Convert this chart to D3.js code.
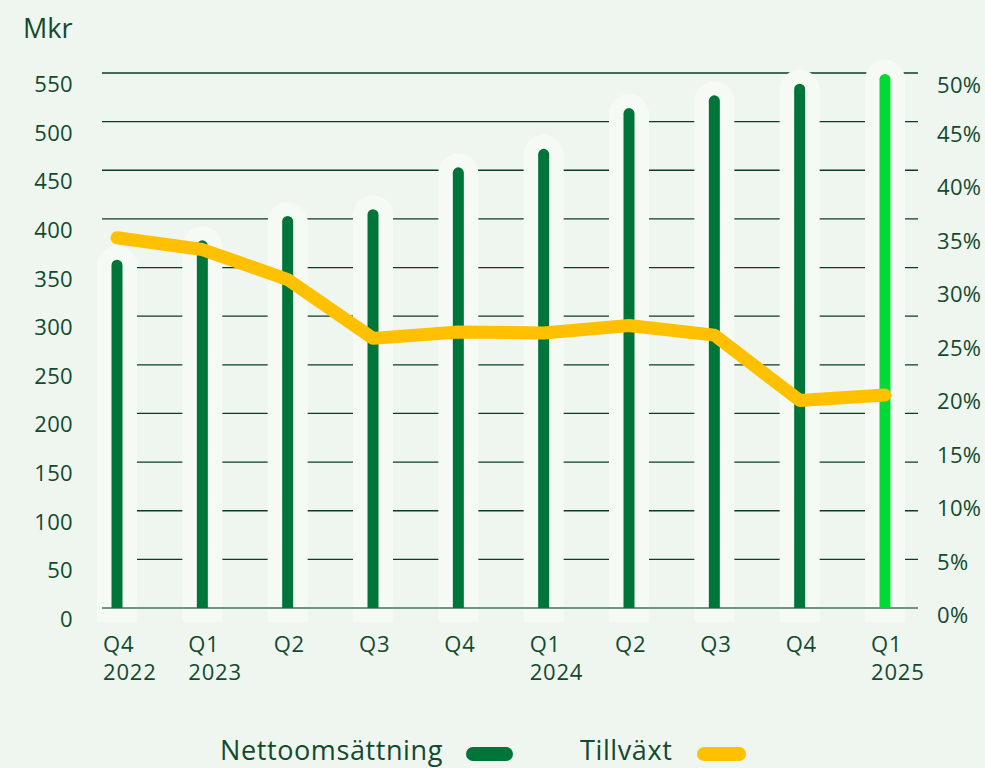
<!DOCTYPE html>
<html>
<head>
<meta charset="utf-8">
<script src="https://cdn.jsdelivr.net/npm/d3@7/dist/d3.min.js"></script>
<style>
  html, body { margin: 0; padding: 0; background: #eff6ef; }
  svg { display: block; font-family: "Open Sans", "Noto Sans", sans-serif; }
</style>
</head>
<body>
<svg id="chart" width="985" height="768"></svg>
<script>
const quarters = ["Q4", "Q1", "Q2", "Q3", "Q4", "Q1", "Q2", "Q3", "Q4", "Q1"];
const years    = ["2022", "2023", "", "", "", "2024", "", "", "", "2025"];
const netSales = [358, 378, 403, 410, 453, 472, 514, 527, 539, 549];
const growth   = [34.6, 33.5, 30.7, 25.2, 25.8, 25.7, 26.4, 25.5, 19.4, 19.9];
const leftTicks  = [0, 50, 100, 150, 200, 250, 300, 350, 400, 450, 500, 550];
const rightTicks = [0, 5, 10, 15, 20, 25, 30, 35, 40, 45, 50];
const unitLabel = "Mkr";
const legendLabels = ["Nettoomsättning", "Tillväxt"];

(function () {
const C = {
  bg: "#eff6ef", barBg: "#f5faf5", bar: "#00753a", barLast: "#00d936",
  line: "#ffc000", text: "#124a2e", grid: "#0b3d22", base: "#6f9682"
};

const svg = d3.select("#chart");
const pL = 102, pR = 918, pT = 73, pB = 608;
const idx = d3.range(quarters.length);

const x = d3.scalePoint().domain(idx).range([117, 885]);
const y = d3.scaleLinear().domain([0, 550]).range([pB, pT]);
const yp = d3.scaleLinear().domain([0, 50]).range([pB, pT]);

// gridlines
svg.append("g").selectAll("line").data(leftTicks.filter(d => d > 0)).join("line")
  .attr("x1", pL).attr("x2", pR)
  .attr("y1", d => y(d)).attr("y2", d => y(d))
  .attr("stroke", C.grid).attr("stroke-width", 1.3);

// background pills behind bars
const bgW = 40;
svg.append("g").selectAll("path").data(idx).join("path")
  .attr("fill", C.barBg)
  .attr("d", i => {
    const cx = x(i), t = y(netSales[i]) - 14, b = pB + 14, r = bgW / 2;
    return `M${cx - r},${b} L${cx - r},${t + r} A${r},${r} 0 0 1 ${cx + r},${t + r} L${cx + r},${b} Z`;
  });

// baseline
svg.append("line").attr("x1", pL).attr("x2", pR)
  .attr("y1", pB).attr("y2", pB)
  .attr("stroke", C.base).attr("stroke-width", 2);

// bars
const bw = 11;
svg.append("g").selectAll("path").data(idx).join("path")
  .attr("fill", i => i === idx.length - 1 ? C.barLast : C.bar)
  .attr("d", i => {
    const cx = x(i), t = y(netSales[i]), b = pB, r = bw / 2;
    return `M${cx - r},${b} L${cx - r},${t + r} A${r},${r} 0 0 1 ${cx + r},${t + r} L${cx + r},${b} Z`;
  });

// growth line
svg.append("path").datum(idx)
  .attr("fill", "none").attr("stroke", C.line).attr("stroke-width", 13)
  .attr("stroke-linecap", "round").attr("stroke-linejoin", "round")
  .attr("d", d3.line().x(i => x(i)).y(i => yp(growth[i])));

// left axis labels
svg.append("g").selectAll("text").data(leftTicks).join("text")
  .attr("x", 73).attr("y", d => y(d) + 10)
  .attr("text-anchor", "end").attr("dominant-baseline", "central")
  .attr("fill", C.text).attr("font-size", 22).attr("letter-spacing", 0.3)
  .text(d => d);

// right axis labels
svg.append("g").selectAll("text").data(rightTicks).join("text")
  .attr("x", 937).attr("y", d => Math.min(615.5, Math.max(83.5, yp(d) + 6)))
  .attr("text-anchor", "start").attr("dominant-baseline", "central")
  .attr("fill", C.text).attr("font-size", 22).attr("letter-spacing", 0.3)
  .text(d => d + "%");

// unit label
svg.append("text").attr("x", 23).attr("y", 38)
  .attr("fill", C.text).attr("font-size", 27).text(unitLabel);

// x labels
const xl = svg.append("g").selectAll("text").data(idx).join("text")
  .attr("fill", C.text).attr("font-size", 22).attr("letter-spacing", 0.8);
xl.append("tspan").attr("x", i => x(i) - 14).attr("y", 652).text(i => quarters[i]);
xl.filter(i => years[i]).append("tspan").attr("x", i => x(i) - 14).attr("y", 680).text(i => years[i]);

// legend
const lg = svg.append("g");
lg.append("text").attr("x", 220).attr("y", 760).attr("fill", C.text)
  .attr("font-size", 27).attr("letter-spacing", 0.6).text(legendLabels[0]);
lg.append("line").attr("x1", 473).attr("x2", 506).attr("y1", 754).attr("y2", 754)
  .attr("stroke", C.bar).attr("stroke-width", 14).attr("stroke-linecap", "round");
lg.append("text").attr("x", 580).attr("y", 760).attr("fill", C.text)
  .attr("font-size", 27).attr("letter-spacing", 0.6).text(legendLabels[1]);
lg.append("line").attr("x1", 704).attr("x2", 739).attr("y1", 754).attr("y2", 754)
  .attr("stroke", C.line).attr("stroke-width", 14).attr("stroke-linecap", "round");
})();
</script>
</body>
</html>
